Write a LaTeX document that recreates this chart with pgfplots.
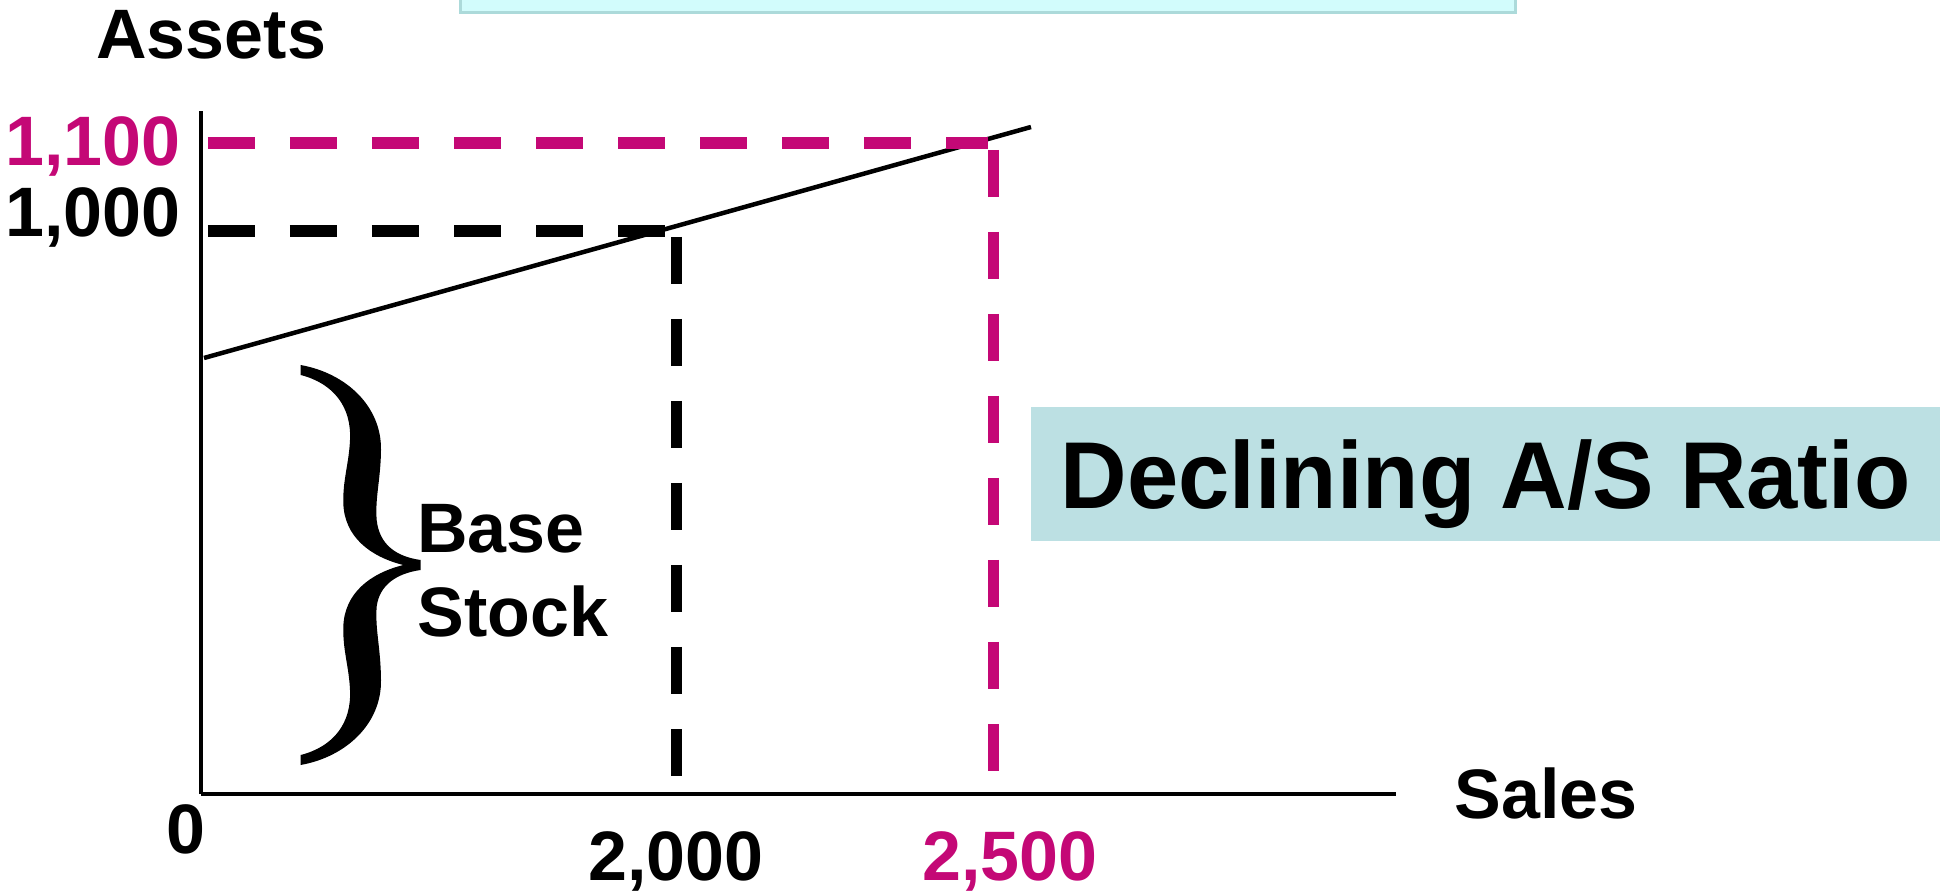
\documentclass[border=0pt]{standalone}
\usepackage{fontspec}
\setmainfont{Liberation Sans}
\usepackage{graphicx}
\usepackage{pgfplots}
\pgfplotsset{compat=1.18}
\definecolor{mag}{RGB}{196,8,118}
\definecolor{boxteal}{RGB}{188,224,227}
\definecolor{topcyan}{RGB}{210,252,252}
\definecolor{topborder}{RGB}{172,218,218}
\tikzset{lbl/.style={font=\bfseries\fontsize{35}{40}\selectfont, inner sep=0pt}}
\begin{document}
\begin{tikzpicture}
\useasboundingbox (-100.5pt,-50.5pt) rectangle (869.5pt,397pt);
\begin{axis}[at={(0,0)}, anchor=south west, scale only axis,
  width=597.5pt, height=341.5pt,
  xmin=0, xmax=1195, ymin=0, ymax=683,
  axis lines=left, axis line style={-, line width=2.25pt},
  xtick=\empty, ytick=\empty, clip=false]
% asset line
\addplot[black, line width=2.25pt] coordinates {(3,436) (830,667)};
% guides
\addplot[black, line width=6pt, dash pattern=on 23.5pt off 17.5pt] coordinates {(7,563) (464,563)};
\addplot[black, line width=5.5pt, dash pattern=on 23.5pt off 17.5pt] coordinates {(475,557) (475,17)};
\addplot[mag, line width=6pt, dash pattern=on 23.5pt off 17.5pt] coordinates {(7,651) (787,651)};
\addplot[mag, line width=5.5pt, dash pattern=on 23.5pt off 17.5pt] coordinates {(792,644) (792,23)};
% labels
\node[lbl, anchor=base west] at (axis cs:-105,735) {Assets};
\node[lbl, anchor=base east, text=mag] at (axis cs:-20,628) {1,100};
\node[lbl, anchor=base east] at (axis cs:-20,557) {1,000};
\node[lbl, anchor=base] at (axis cs:-15.5,-59) {0};
\node[lbl, anchor=base] at (axis cs:475,-86) {2,000};
\node[lbl, anchor=base, text=mag] at (axis cs:809,-86) {2,500};
\node[lbl, anchor=base west] at (axis cs:1253,-24) {Sales};
\node[lbl, anchor=base west] at (axis cs:216,241) {Base};
\node[lbl, anchor=base west] at (axis cs:216,157) {Stock};
\end{axis}
% top box (partly off the page)
\draw[topborder, fill=topcyan, line width=1.5pt] (129.5pt,390.5pt) rectangle (657pt,402pt);
% declining box
\fill[boxteal] (415pt,126.5pt) rectangle (869.5pt,193.5pt);
\node[anchor=base, inner sep=0pt, font=\bfseries\fontsize{47.5}{50}\selectfont] at (642.25pt,142.5pt) {\scalebox{0.97}[1]{Declining A/S Ratio}};
% brace
\begin{scope}[shift={(24.5pt,227pt)}, x={(0.166667pt,0pt)}, y={(0pt,-0.166667pt)}]
\fill[black] (152,75) .. controls (290,100) and (395,200) .. (393,330)
  .. controls (392,420) and (375,470) .. (380,540)
  .. controls (388,615) and (440,650) .. (512,660)
  -- (512,690)
  .. controls (440,700) and (388,735) .. (380,800)
  .. controls (375,870) and (392,920) .. (393,1020)
  .. controls (395,1150) and (290,1250) .. (152,1275)
  -- (152,1245)
  .. controls (250,1220) and (305,1150) .. (300,1050)
  .. controls (297,980) and (278,930) .. (280,860)
  .. controls (283,760) and (360,700) .. (460,675)
  .. controls (360,650) and (283,590) .. (280,490)
  .. controls (278,420) and (297,370) .. (300,300)
  .. controls (305,200) and (250,130) .. (152,105) -- cycle;
\end{scope}
\end{tikzpicture}
\end{document}
